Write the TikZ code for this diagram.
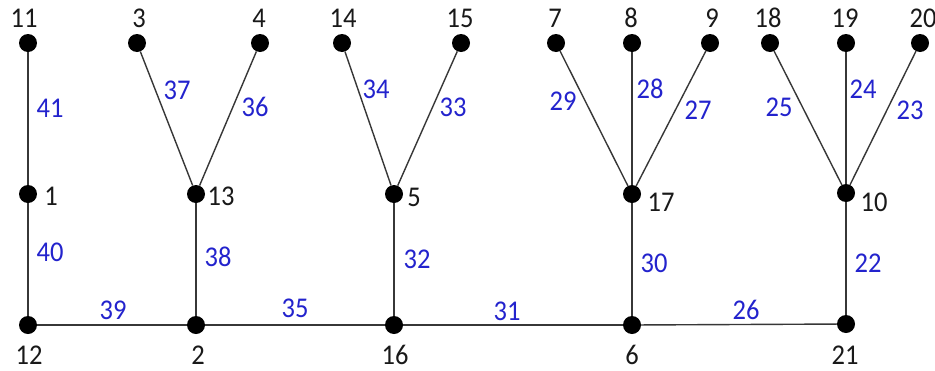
\documentclass[tikz,border=0pt]{standalone}
\usepackage{fontspec}
\setmainfont{Carlito}
\usepackage{graphicx}
\definecolor{eblue}{RGB}{35,35,205}
\definecolor{eline}{RGB}{55,55,55}
\newcommand{\tx}[1]{\scalebox{1}[1.08]{#1}}
\begin{document}
\begin{tikzpicture}[x=1pt,y=-1pt,
  dot/.style={circle,fill=black,inner sep=0pt,minimum size=18pt},
  conn/.style={draw=eline,line width=1.4pt},
  nlab/.style={font=\fontsize{26.5}{26.5}\selectfont,inner sep=0pt,text=black!90},
  elab/.style={nlab,text=eblue}]
\useasboundingbox[fill=white] (0,0) rectangle (935,370);
% dots
\node[dot] (n11) at (28,43) {};
\node[dot] (n3) at (137,43) {};
\node[dot] (n4) at (260,43) {};
\node[dot] (n14) at (342,43) {};
\node[dot] (n15) at (461,43) {};
\node[dot] (n7) at (556,43) {};
\node[dot] (n8) at (632,43) {};
\node[dot] (n9) at (710,43) {};
\node[dot] (n18) at (770,43) {};
\node[dot] (n19) at (846,43) {};
\node[dot] (n20) at (920,43) {};
\node[dot] (n1) at (28,194) {};
\node[dot] (n13) at (196,194) {};
\node[dot] (n5) at (394,194) {};
\node[dot] (n17) at (632,194) {};
\node[dot] (n10) at (846,193) {};
\node[dot] (n12) at (28,325) {};
\node[dot] (n2) at (196,325) {};
\node[dot] (n16) at (394,325) {};
\node[dot] (n6) at (632,325) {};
\node[dot] (n21) at (846,324) {};
% connectors
\draw[conn] (n11) -- (n1);
\draw[conn] (n1) -- (n12);
\draw[conn] (n12) -- (n2);
\draw[conn] (n2) -- (n16);
\draw[conn] (n16) -- (n6);
\draw[conn] (n6) -- (n21);
\draw[conn] (n3) -- (n13);
\draw[conn] (n4) -- (n13);
\draw[conn] (n13) -- (n2);
\draw[conn] (n14) -- (n5);
\draw[conn] (n15) -- (n5);
\draw[conn] (n5) -- (n16);
\draw[conn] (n7) -- (n17);
\draw[conn] (n8) -- (n17);
\draw[conn] (n9) -- (n17);
\draw[conn] (n17) -- (n6);
\draw[conn] (n18) -- (n10);
\draw[conn] (n19) -- (n10);
\draw[conn] (n20) -- (n10);
\draw[conn] (n10) -- (n21);
% node labels
\node[nlab] (l11) at (24,18) {\tx{11}};
\node[nlab] (l3) at (139,18) {\tx{3}};
\node[nlab] (l4) at (259,18) {\tx{4}};
\node[nlab] (l14) at (343,18) {\tx{14}};
\node[nlab] (l15) at (460,18) {\tx{15}};
\node[nlab] (l7) at (555,18) {\tx{7}};
\node[nlab] (l8) at (631,18) {\tx{8}};
\node[nlab] (l9) at (712,18) {\tx{9}};
\node[nlab] (l18) at (768,18) {\tx{18}};
\node[nlab] (l19) at (845,18) {\tx{19}};
\node[nlab] (l20) at (923,18) {\tx{20}};
\node[nlab] (l1) at (51,196) {\tx{1}};
\node[nlab] (l13) at (221,196) {\tx{13}};
\node[nlab] (l5) at (414,197) {\tx{5}};
\node[nlab] (l17) at (661,202) {\tx{17}};
\node[nlab] (l10) at (874,202) {\tx{10}};
\node[nlab] (l12) at (29,355) {\tx{12}};
\node[nlab] (l2) at (198,355) {\tx{2}};
\node[nlab] (l16) at (395,355) {\tx{16}};
\node[nlab] (l6) at (632,355) {\tx{6}};
\node[nlab] (l21) at (845,355) {\tx{21}};
% edge labels
\node[elab] (e41) at (50,108) {\tx{41}};
\node[elab] (e40) at (50,252) {\tx{40}};
\node[elab] (e37) at (177,90) {\tx{37}};
\node[elab] (e36) at (255,107) {\tx{36}};
\node[elab] (e38) at (218,257) {\tx{38}};
\node[elab] (e39) at (113,310) {\tx{39}};
\node[elab] (e35) at (295,308) {\tx{35}};
\node[elab] (e34) at (376,89) {\tx{34}};
\node[elab] (e33) at (453,107) {\tx{33}};
\node[elab] (e32) at (417,259) {\tx{32}};
\node[elab] (e31) at (507,311) {\tx{31}};
\node[elab] (e29) at (563,101) {\tx{29}};
\node[elab] (e28) at (650,89) {\tx{28}};
\node[elab] (e27) at (698,110) {\tx{27}};
\node[elab] (e30) at (654,263) {\tx{30}};
\node[elab] (e25) at (779,107) {\tx{25}};
\node[elab] (e24) at (863,89) {\tx{24}};
\node[elab] (e23) at (910,110) {\tx{23}};
\node[elab] (e22) at (868,263) {\tx{22}};
\node[elab] (e26) at (746,310) {\tx{26}};
\end{tikzpicture}
\end{document}
